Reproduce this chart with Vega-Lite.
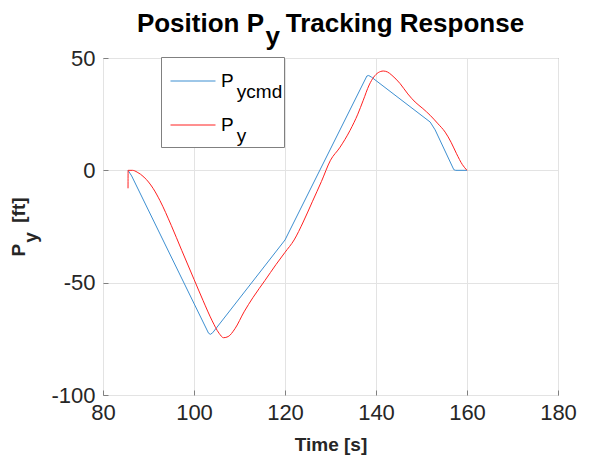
{
  "$schema": "https://vega.github.io/schema/vega-lite/v6.json",
  "width": 455,
  "height": 337,
  "autosize": {"type": "none"},
  "padding": {"left": 103, "top": 58, "right": 32, "bottom": 68},
  "background": "white",
  "title": {
    "text": ["Position P\u00a0\u00a0\u00a0Tracking Response", "y\u00a0\u00a0\u00a0\u00a0\u00a0\u00a0\u00a0\u00a0\u00a0\u00a0\u00a0\u00a0\u00a0\u00a0\u00a0\u00a0\u200b"],
    "fontSize": 26,
    "fontWeight": "bold",
    "color": "#000000",
    "lineHeight": 13,
    "anchor": "middle",
    "offset": -3
  },
  "config": {
    "font": "Liberation Sans",
    "view": {"stroke": "#808080", "strokeWidth": 1},
    "axis": {
      "domain": false,
      "gridColor": "#e3e3e3",
      "gridWidth": 1,
      "ticks": true,
      "tickSize": -5,
      "tickColor": "#808080",
      "labelFontSize": 22,
      "labelColor": "#262626",
      "titleFontSize": 19,
      "titleFontWeight": "bold",
      "titleColor": "#262626",
      "labelFont": "Liberation Sans",
      "titleFont": "Liberation Sans"
    }
  },
  "data": {
    "values": [
      {"t": 85.5, "v": 0, "s": "Pycmd"},
      {"t": 86.3, "v": -2.5, "s": "Pycmd"},
      {"t": 103.2, "v": -72.5, "s": "Pycmd"},
      {"t": 103.6, "v": -73, "s": "Pycmd"},
      {"t": 104.1, "v": -72.3, "s": "Pycmd"},
      {"t": 120, "v": -31, "s": "Pycmd"},
      {"t": 138, "v": 42, "s": "Pycmd"},
      {"t": 138.4, "v": 42.2, "s": "Pycmd"},
      {"t": 139, "v": 41.5, "s": "Pycmd"},
      {"t": 151.9, "v": 21.5, "s": "Pycmd"},
      {"t": 153, "v": 18, "s": "Pycmd"},
      {"t": 157.1, "v": 0.3, "s": "Pycmd"},
      {"t": 157.5, "v": 0, "s": "Pycmd"},
      {"t": 160, "v": 0, "s": "Pycmd"},
      {"t": 85.5, "v": -8, "s": "Py"},
      {"t": 85.52, "v": 0, "s": "Py"},
      {"t": 86.5, "v": 0, "s": "Py"},
      {"t": 87.5, "v": -0.8, "s": "Py"},
      {"t": 89, "v": -3, "s": "Py"},
      {"t": 91, "v": -8, "s": "Py"},
      {"t": 92.5, "v": -13.4, "s": "Py"},
      {"t": 95, "v": -24.5, "s": "Py"},
      {"t": 97.3, "v": -35.6, "s": "Py"},
      {"t": 100, "v": -48.5, "s": "Py"},
      {"t": 102, "v": -58, "s": "Py"},
      {"t": 104, "v": -67, "s": "Py"},
      {"t": 105.5, "v": -72.5, "s": "Py"},
      {"t": 106.5, "v": -74.5, "s": "Py"},
      {"t": 107.5, "v": -74, "s": "Py"},
      {"t": 109, "v": -70.5, "s": "Py"},
      {"t": 111, "v": -63, "s": "Py"},
      {"t": 113, "v": -56.5, "s": "Py"},
      {"t": 115.6, "v": -49, "s": "Py"},
      {"t": 118, "v": -42, "s": "Py"},
      {"t": 120, "v": -36.5, "s": "Py"},
      {"t": 122, "v": -31, "s": "Py"},
      {"t": 124, "v": -23, "s": "Py"},
      {"t": 126, "v": -14, "s": "Py"},
      {"t": 128, "v": -5, "s": "Py"},
      {"t": 130, "v": 4.5, "s": "Py"},
      {"t": 132, "v": 10, "s": "Py"},
      {"t": 134.3, "v": 17.8, "s": "Py"},
      {"t": 136, "v": 25, "s": "Py"},
      {"t": 137.2, "v": 31.2, "s": "Py"},
      {"t": 138.5, "v": 38, "s": "Py"},
      {"t": 139.5, "v": 41.5, "s": "Py"},
      {"t": 140.5, "v": 43.5, "s": "Py"},
      {"t": 141.6, "v": 44.2, "s": "Py"},
      {"t": 142.5, "v": 43.8, "s": "Py"},
      {"t": 143.5, "v": 42.3, "s": "Py"},
      {"t": 145.3, "v": 38.6, "s": "Py"},
      {"t": 147, "v": 34, "s": "Py"},
      {"t": 148.6, "v": 30.4, "s": "Py"},
      {"t": 150.3, "v": 27.5, "s": "Py"},
      {"t": 151.9, "v": 24.5, "s": "Py"},
      {"t": 153.5, "v": 21, "s": "Py"},
      {"t": 155.2, "v": 17, "s": "Py"},
      {"t": 156.5, "v": 12.5, "s": "Py"},
      {"t": 157.7, "v": 7.4, "s": "Py"},
      {"t": 159, "v": 2.5, "s": "Py"},
      {"t": 160, "v": 0, "s": "Py"}
    ]
  },
  "encoding": {
    "x": {
      "field": "t",
      "type": "quantitative",
      "scale": {"domain": [80, 180], "nice": false, "zero": false},
      "axis": {"values": [80, 100, 120, 140, 160, 180], "title": "Time [s]", "labelPadding": 12, "titlePadding": 12, "labelFlush": false}
    },
    "y": {
      "field": "v",
      "type": "quantitative",
      "scale": {"domain": [-100, 50], "nice": false, "zero": false},
      "axis": {
        "values": [-100, -50, 0, 50],
        "labelExpr": "'' + datum.value",
        "labelPadding": 13,
        "labelFlush": false,
        "title": ["P\u00a0\u00a0\u00a0\u00a0[ft]", "y\u00a0\u00a0\u00a0\u00a0\u200b"],
        "titleLineHeight": 12,
        "titlePadding": 10
      }
    },
    "color": {
      "field": "s",
      "type": "nominal",
      "scale": {"domain": ["Pycmd", "Py"], "range": ["#3d8fd1", "#ff2020"]},
      "legend": {
        "orient": "none",
        "legendX": 58,
        "legendY": -1,
        "title": null,
        "symbolType": "stroke",
        "symbolSize": 2025,
        "symbolStrokeWidth": 1,
        "symbolOffset": 8,
        "labelFontSize": 19,
        "labelColor": "#000000",
        "labelExpr": "datum.label == 'Pycmd' ? ['P', '\u200b\u00a0\u00a0\u00a0ycmd'] : ['P', '\u200b\u00a0\u00a0\u00a0y']",
        "labelOffset": 5,
        "strokeColor": "#808080",
        "fillColor": "white",
        "padding": 1,
        "rowPadding": -3,
        "encode": {"labels": {"update": {"lineHeight": {"value": 11}}}}
      }
    }
  },
  "layer": [
    {
      "transform": [{"filter": "datum.s == 'Pycmd'"}],
      "mark": {"type": "line", "strokeWidth": 1, "interpolate": "linear"}
    },
    {
      "transform": [{"filter": "datum.s == 'Py'"}],
      "mark": {"type": "line", "strokeWidth": 1, "interpolate": "monotone"}
    }
  ]
}
